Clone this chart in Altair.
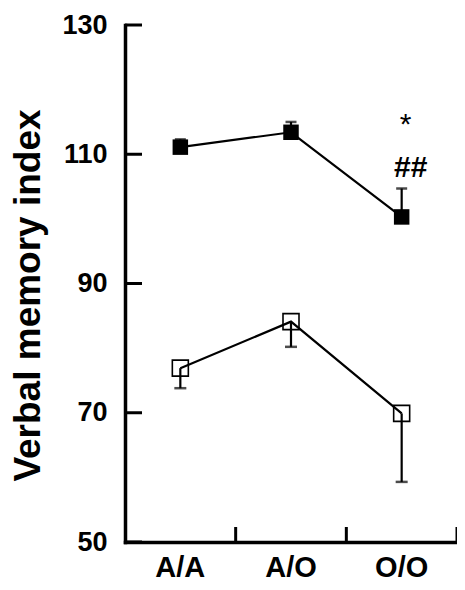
import altair as alt
import pandas as pd

cats = ["A/A", "A/O", "O/O"]
filled_mean = [111.1, 113.4, 100.3]
filled_err = [112.3, 115.0, 104.7]
open_mean = [76.9, 84.1, 69.9]
open_err = [73.8, 80.2, 59.3]
y_ticks = [50, 70, 90, 110, 130]
annot_cat = ["O/O", "O/O"]
annot_text = ["*", "##"]
annot_y = [113.2, 106.5]

FONT = "Liberation Sans"

df = pd.DataFrame({
    "cat": cats * 2,
    "series": ["filled"] * 3 + ["open"] * 3,
    "mean": filled_mean + open_mean,
    "err": filled_err + open_err,
})
df_f = df[df.series == "filled"]
df_o = df[df.series == "open"]
ticks_y = pd.DataFrame({"v": y_ticks})
ticks_x = pd.DataFrame({"cat": cats})
annot = pd.DataFrame({"cat": annot_cat, "t": annot_text, "y": annot_y})

W = 332
H = 517
xscale = alt.Scale(domain=cats, paddingInner=0, paddingOuter=0)
yscale = alt.Scale(domain=[50, 130], nice=False, zero=False)

X = alt.X("cat:N", scale=xscale, sort=cats, axis=alt.Axis(
    title=None, labelAngle=0, ticks=False, tickSize=0, domainWidth=3.5,
    domainColor="black", domainCap="square", labelFont=FONT,
    labelFontSize=29, labelFontWeight="bold", labelColor="black",
    labelPadding=11))
Y = alt.Y("mean:Q", scale=yscale, axis=alt.Axis(
    title="Verbal memory index", values=y_ticks, ticks=False, tickSize=0,
    grid=False, domainWidth=3.5, domainColor="black", domainCap="square",
    labelFont=FONT, labelFontSize=27, labelFontWeight="bold",
    labelColor="black", labelPadding=18, titleFont=FONT, titleFontSize=37,
    titleFontWeight="bold", titleColor="black", titlePadding=14, titleY=270))

Xp = alt.X("cat:N", scale=xscale, sort=cats)

base_f = alt.Chart(df_f)
base_o = alt.Chart(df_o)

line_f = base_f.mark_line(color="black", strokeWidth=2.2).encode(x=X, y=Y)
line_o = base_o.mark_line(color="black", strokeWidth=2.2).encode(x=X, y=Y)

err_f = base_f.mark_rule(color="black", strokeWidth=2.2).encode(
    x=Xp, y=alt.Y("mean:Q", scale=yscale), y2="err:Q")
err_o = base_o.mark_rule(color="black", strokeWidth=2.2).encode(
    x=Xp, y=alt.Y("mean:Q", scale=yscale), y2="err:Q")
cap_f = base_f.mark_tick(color="black", size=11, thickness=2.5).encode(
    x=Xp, y=alt.Y("err:Q", scale=yscale))
cap_o = base_o.mark_tick(color="black", size=12, thickness=2.5).encode(
    x=Xp, y=alt.Y("err:Q", scale=yscale))

pts_f = base_f.mark_square(size=240, color="black", opacity=1, filled=True).encode(
    x=Xp, y=alt.Y("mean:Q", scale=yscale))
pts_o = base_o.mark_square(size=256, filled=False, stroke="black", strokeWidth=1.6,
                           opacity=1).encode(
    x=Xp, y=alt.Y("mean:Q", scale=yscale))

yt = alt.Chart(ticks_y).mark_rule(color="black", strokeWidth=3).encode(
    y=alt.Y("v:Q", scale=yscale), x=alt.value(0), x2=alt.value(17))
xt = alt.Chart(ticks_x).mark_rule(color="black", strokeWidth=3).encode(
    x=alt.X("cat:N", scale=xscale, sort=cats, bandPosition=1),
    y=alt.value(H - 15), y2=alt.value(H))

txt1 = alt.Chart(annot.iloc[[0]]).mark_text(font=FONT, fontSize=30, color="black",
                                            baseline="alphabetic", align="center", dx=4).encode(
    x=Xp, y=alt.Y("y:Q", scale=yscale), text="t:N")
txt2 = alt.Chart(annot.iloc[[1]]).mark_text(font=FONT, fontSize=30, fontWeight="bold",
                                            color="black", baseline="alphabetic",
                                            align="center", dx=9).encode(
    x=Xp, y=alt.Y("y:Q", scale=yscale), text="t:N")

chart = alt.layer(line_f, line_o, err_f, err_o, cap_f, cap_o, pts_f, pts_o,
                  yt, xt, txt1, txt2).properties(
    width=W, height=H,
    autosize=alt.AutoSizeParams(type="none"),
    padding={"left": 117, "top": 17, "right": 0, "bottom": 40},
    background="white",
).configure_view(stroke=None)

chart.save("out.html", embed_options={"renderer": "svg", "actions": False})
